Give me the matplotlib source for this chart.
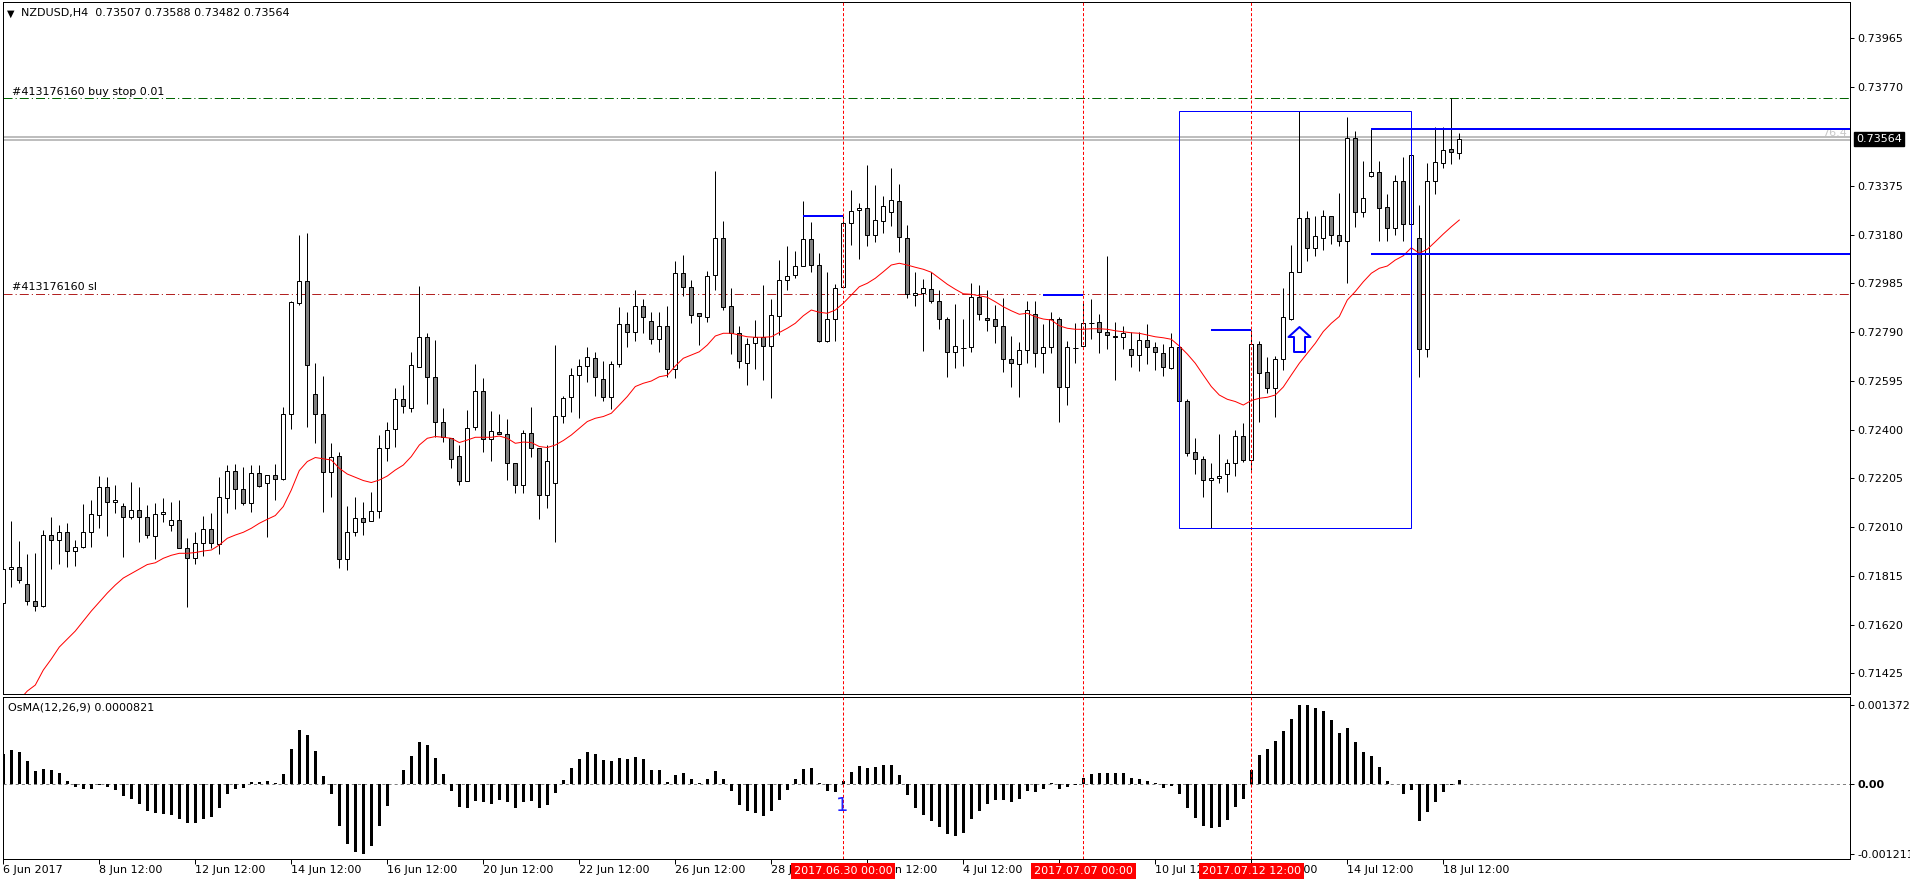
# -*- coding: utf-8 -*-
"""
NZDUSD H4 蜡烛图 + OsMA(12,26,9) 副图
"""

import numpy as np
import matplotlib
matplotlib.use('Agg')
import matplotlib.pyplot as plt
from matplotlib.path import Path
from matplotlib.patches import Rectangle
from matplotlib.transforms import blended_transform_factory, offset_copy

W, H, DPI = 1910, 884, 100
PX = 72.0 / DPI  # 1 像素对应的磅值

# ---- K线数据 (单位: 0.00001) ----
open_pts = [
    71705, 71841, 71851, 71781, 71713, 71695, 71977, 71957, 71989, 71914,
    71929, 71989, 72057, 72169, 72109, 72093, 72049, 72077, 72049, 71973,
    72061, 72017, 72037, 71925, 71885, 71945, 72001, 71941, 72125, 72233,
    72162, 72105, 72225, 72185, 72217, 72201, 72461, 72905, 72994, 72541,
    72461, 72229, 72294, 71881, 71989, 72047, 72034, 72074, 72325, 72401,
    72521, 72485, 72651, 72769, 72611, 72431, 72365, 72294, 72195, 72409,
    72554, 72361, 72389, 72381, 72265, 72177, 72385, 72325, 72137, 72186,
    72453, 72529, 72617, 72653, 72685, 72601, 72531, 72661, 72821, 72789,
    72893, 72833, 72761, 72813, 72641, 73025, 72969, 72865, 72849, 73017,
    73165, 72893, 72785, 72665, 72745, 72769, 72733, 72853, 72997, 73017,
    73053, 73161, 73057, 72753, 72841, 72969, 73225, 73277, 73285, 73177,
    73233, 73269, 73313, 73165, 72937, 72945, 72961, 72913, 72841, 72709,
    72727, 72729, 72929, 72845, 72841, 72813, 72681, 72661, 72717, 72861,
    72705, 72729, 72841, 72569, 72727, 72733, 72827, 72829, 72789, 72774,
    72769, 72721, 72697, 72757, 72729, 72705, 72645, 72729, 72513, 72309,
    72281, 72197, 72205, 72221, 72265, 72373, 72277, 72741, 72629, 72565,
    72681, 72841, 73029, 73245, 73125, 73165, 73253, 73177, 73153, 73565,
    73269, 73413, 73429, 73289, 73205, 73394, 73221, 73165, 72721, 73394,
    73465, 73521, 73507,
]
high_pts = [
    71871, 72034, 71954, 71902, 71906, 71997, 72050, 72018, 72026, 71957,
    72102, 72119, 72215, 72211, 72178, 72105, 72190, 72170, 72098, 72105,
    72126, 72110, 72118, 71965, 71989, 72054, 72066, 72211, 72259, 72263,
    72251, 72259, 72259, 72217, 72263, 72490, 72914, 73179, 73186, 72666,
    72614, 72345, 72311, 72094, 72131, 72111, 72151, 72378, 72431, 72567,
    72578, 72711, 72974, 72787, 72758, 72485, 72365, 72338, 72478, 72662,
    72605, 72474, 72462, 72443, 72265, 72398, 72490, 72325, 72338, 72738,
    72534, 72645, 72682, 72731, 72711, 72675, 72674, 72891, 72870, 72958,
    72922, 72870, 72870, 72893, 73074, 73098, 72998, 72865, 73034, 73434,
    73234, 72965, 72813, 72765, 72838, 72978, 72922, 73078, 73133, 73115,
    73314, 73230, 73105, 73029, 72982, 73254, 73357, 73305, 73458, 73378,
    73334, 73446, 73382, 73217, 73029, 73002, 73029, 72957, 72849, 72901,
    72841, 72985, 72977, 72957, 72897, 72925, 72773, 72749, 72913, 72913,
    72821, 72869, 72849, 72753, 72825, 72913, 72921, 72861, 73094, 72829,
    72813, 72789, 72789, 72821, 72749, 72741, 72785, 72733, 72521, 72365,
    72293, 72265, 72381, 72281, 72397, 72425, 72797, 72753, 72689, 72693,
    72965, 73138, 73675, 73275, 73255, 73278, 73253, 73345, 73649, 73595,
    73475, 73601, 73474, 73341, 73418, 73489, 73497, 73298, 73465, 73609,
    73609, 73725, 73588,
]
low_pts = [
    71671, 71769, 71787, 71699, 71675, 71689, 71841, 71861, 71851, 71855,
    71927, 71931, 72005, 71975, 72065, 71889, 72041, 71949, 71965, 71883,
    72029, 71993, 71925, 71691, 71861, 71893, 71925, 71901, 72065, 72082,
    72098, 72069, 72169, 71969, 72117, 72198, 72401, 72897, 72409, 72345,
    72069, 72131, 71845, 71838, 71975, 71978, 72034, 72047, 72275, 72331,
    72465, 72471, 72649, 72502, 72369, 72351, 72247, 72178, 72195, 72398,
    72311, 72275, 72381, 72198, 72145, 72145, 72289, 72043, 72085, 71951,
    72427, 72471, 72445, 72591, 72535, 72515, 72481, 72651, 72731, 72755,
    72785, 72741, 72711, 72609, 72605, 72935, 72825, 72739, 72829, 72958,
    72877, 72701, 72645, 72577, 72641, 72597, 72525, 72777, 72957, 73005,
    73053, 73029, 72749, 72749, 72753, 72969, 73139, 73081, 73133, 73149,
    73185, 73213, 73109, 72925, 72895, 72713, 72905, 72801, 72609, 72645,
    72653, 72709, 72837, 72793, 72745, 72629, 72571, 72531, 72665, 72649,
    72625, 72705, 72431, 72497, 72665, 72733, 72761, 72705, 72721, 72597,
    72721, 72649, 72633, 72661, 72637, 72613, 72641, 72513, 72293, 72221,
    72129, 72005, 72185, 72149, 72213, 72269, 72237, 72431, 72545, 72451,
    72637, 72838, 73029, 73075, 73095, 73119, 73143, 73135, 72985, 73211,
    73249, 73409, 73155, 73155, 73179, 73155, 73221, 72611, 72691, 73343,
    73445, 73461, 73482,
]
close_pts = [
    71841, 71851, 71798, 71713, 71693, 71977, 71957, 71989, 71914, 71929,
    71989, 72062, 72169, 72109, 72117, 72049, 72077, 72049, 71977, 72061,
    72069, 72037, 71925, 71885, 71945, 72001, 71945, 72130, 72233, 72162,
    72105, 72225, 72173, 72217, 72201, 72461, 72909, 72994, 72658, 72461,
    72229, 72289, 71881, 71989, 72047, 72031, 72074, 72325, 72397, 72521,
    72495, 72657, 72769, 72611, 72431, 72369, 72281, 72195, 72405, 72554,
    72361, 72393, 72381, 72265, 72177, 72385, 72325, 72137, 72273, 72453,
    72525, 72617, 72653, 72689, 72609, 72531, 72661, 72821, 72789, 72893,
    72849, 72761, 72813, 72641, 73025, 72969, 72857, 72853, 73013, 73165,
    72889, 72785, 72673, 72741, 72769, 72733, 72857, 72997, 73013, 73053,
    73161, 73057, 72753, 72841, 72965, 73225, 73273, 73285, 73177, 73237,
    73293, 73317, 73169, 72941, 72945, 72965, 72913, 72841, 72709, 72733,
    72727, 72929, 72861, 72837, 72813, 72681, 72665, 72717, 72877, 72705,
    72729, 72841, 72569, 72729, 72727, 72825, 72827, 72789, 72777, 72769,
    72785, 72697, 72757, 72729, 72709, 72649, 72729, 72513, 72305, 72281,
    72197, 72205, 72213, 72265, 72373, 72277, 72741, 72625, 72565, 72681,
    72849, 73029, 73245, 73125, 73173, 73253, 73177, 73153, 73565, 73269,
    73325, 73429, 73285, 73205, 73394, 73221, 73497, 72721, 73394, 73469,
    73517, 73509, 73564,
]
# 均线 (红线), 单位 0.00001
ma_pts = [
    71258, 71286, 71318, 71354, 71378, 71438, 71482, 71530, 71562, 71594,
    71634, 71674, 71710, 71746, 71778, 71806, 71824, 71842, 71860, 71867,
    71885, 71897, 71905, 71905, 71908, 71914, 71918, 71938, 71965, 71978,
    71989, 72005, 72025, 72041, 72056, 72092, 72158, 72236, 72272, 72288,
    72283, 72278, 72245, 72222, 72209, 72196, 72188, 72198, 72214, 72238,
    72258, 72292, 72338, 72365, 72372, 72369, 72365, 72348, 72358, 72369,
    72369, 72369, 72374, 72365, 72345, 72350, 72348, 72332, 72328, 72338,
    72356, 72378, 72405, 72432, 72445, 72452, 72465, 72498, 72532, 72572,
    72585, 72594, 72611, 72617, 72654, 72685, 72698, 72711, 72738, 72774,
    72785, 72785, 72778, 72771, 72769, 72769, 72771, 72788, 72805, 72825,
    72855, 72878, 72869, 72865, 72878, 72905, 72938, 72971, 72985, 73005,
    73031, 73058, 73065, 73058, 73049, 73041, 73029, 73005, 72981, 72961,
    72943, 72941, 72935, 72929, 72911, 72891, 72875, 72861, 72865, 72851,
    72842, 72838, 72815, 72805, 72801, 72801, 72803, 72803, 72801, 72795,
    72791, 72787, 72785, 72778, 72771, 72767, 72761, 72734, 72702, 72665,
    72618, 72572, 72538, 72521, 72512, 72498, 72516, 72525, 72529, 72538,
    72570, 72618, 72665, 72705, 72745, 72792, 72825, 72852, 72918, 72952,
    72991, 73025, 73045, 73054, 73078, 73095, 73127, 73105, 73121, 73151,
    73182, 73211, 73238,
]
# OsMA 柱, 单位 0.0001
osma_e4 = [
    5.28, 5.98, 5.63, 4.12, 2.32, 2.73, 2.50, 1.92, 0.58, -0.41,
    -0.75, -0.75, -0.12, -0.52, -0.99, -2.03, -2.50, -3.37, -4.59, -4.94,
    -5.17, -5.28, -6.10, -6.79, -6.68, -5.98, -5.63, -4.06, -1.74, -0.87,
    -0.58, 0.41, 0.35, 0.58, 0.23, 1.80, 6.16, 9.47, 8.59, 5.81,
    1.45, -1.63, -7.20, -10.34, -11.73, -12.11, -10.68, -7.20, -3.72, 0.05,
    2.50, 4.94, 7.26, 6.85, 4.59, 1.80, -1.10, -3.95, -4.07, -2.85,
    -3.08, -3.37, -2.67, -3.02, -4.07, -3.02, -2.85, -4.07, -3.54, -1.45,
    0.75, 2.85, 4.41, 5.52, 5.28, 4.18, 4.12, 4.59, 4.47, 4.82,
    4.34, 2.49, 2.49, 0.40, 1.62, 2.02, 0.98, 0.29, 0.92, 2.31,
    0.98, -1.10, -3.58, -4.57, -4.91, -5.49, -4.57, -2.66, -0.92, 0.98,
    2.66, 2.83, 0.23, -1.10, -1.27, 0.58, 2.20, 3.18, 2.89, 3.01,
    3.35, 3.35, 1.62, -1.79, -4.05, -5.26, -6.30, -7.34, -8.61, -8.90,
    -8.38, -5.95, -4.57, -3.35, -2.72, -2.77, -3.01, -2.49, -1.10, -1.27,
    -0.87, 0.23, -0.87, -0.40, -0.10, 1.10, 1.85, 2.02, 2.02, 2.02,
    2.02, 1.04, 0.87, 0.58, 0.23, -0.58, -0.23, -1.62, -4.05, -5.78,
    -7.17, -7.51, -7.34, -6.13, -3.87, -2.49, 2.49, 5.09, 6.13, 7.51,
    9.25, 11.33, 13.725, 13.72, 13.18, 12.72, 11.16, 8.96, 9.71, 7.28,
    5.61, 4.91, 3.01, 0.52, 0.12, -1.62, -0.92, -6.30, -4.74, -3.01,
    -1.27, -0.15, 0.821,
]

price_ticks = [0.73965, 0.73770, 0.73375, 0.73180, 0.72985, 0.72790, 0.72595,
               0.72400, 0.72205, 0.72010, 0.71815, 0.71620, 0.71425]
osma_ticks = [0.0013725, 0.0, -0.001211]
osma_tick_labels = ['0.0013725', '0.00', '-0.001211']

date_idx = [0, 12, 24, 36, 48, 60, 72, 84, 96, 108, 120, 132, 144, 156, 168, 180]
date_labels = ['6 Jun 2017', '8 Jun 12:00', '12 Jun 12:00', '14 Jun 12:00',
               '16 Jun 12:00', '20 Jun 12:00', '22 Jun 12:00', '26 Jun 12:00',
               '28 Jun 12:00', '30 Jun 12:00', '4 Jul 12:00', '6 Jul 12:00',
               '10 Jul 12:00', '12 Jul 12:00', '14 Jul 12:00', '18 Jul 12:00']
vline_idx = [105, 135, 156]
vline_labels = ['2017.06.30 00:00', '2017.07.07 00:00', '2017.07.12 12:00']

# 图上对象
buy_stop = 0.73725
stop_loss = 0.72941
grey_levels = [0.73571, 0.73558]
last_price = 0.73564
blue_levels = [(100, 105, 0.73255), (130, 135, 0.72939), (151, 156, 0.72798),
               (171, None, 0.73602), (171, None, 0.73102)]
box_idx = (147, 176)
box_price = (0.72006, 0.73675)
arrow_idx, arrow_price = 162, 0.72761
label_1_idx, label_1_val = 104.9, -0.000376


def fx(px):
    return px / W


def fy(py):
    return 1 - py / H


plt.rcParams['font.family'] = ['DejaVu Sans']
plt.rcParams['font.size'] = 8
plt.rcParams['lines.scale_dashes'] = False

o = np.array(open_pts) / 1e5
hi = np.array(high_pts) / 1e5
lo = np.array(low_pts) / 1e5
c = np.array(close_pts) / 1e5
ma = np.array(ma_pts) / 1e5
osma = np.array(osma_e4) / 1e4
x = np.arange(len(o))

fig = plt.figure(figsize=(W / DPI, H / DPI), dpi=DPI)
ax = fig.add_axes([fx(2.5), fy(694.3), (1850 - 2.5) / W, (694.3 - 1.5) / H])
ax2 = fig.add_axes([fx(2.5), fy(859.3), (1850 - 2.5) / W, (859.3 - 696.7) / H])

x_lim = (-0.1, -0.1 + 1847.5 / 8)
for a in (ax, ax2):
    a.set_xlim(*x_lim)
    for s in a.spines.values():
        s.set_linewidth(PX)
        s.set_color('black')
ax.set_ylim(0.71341, 0.74112)
ax2.set_ylim(-0.0013005, 0.001519)

# 蜡烛
ax.vlines(x, lo, hi, colors='black', linewidth=PX, zorder=3)
body_lo = np.minimum(o, c)
body_h = np.abs(c - o)
body_col = np.where(c >= o, 'white', '#808080')
ax.bar(x, body_h, bottom=body_lo, width=0.52, color=body_col,
       edgecolor='black', linewidth=PX, zorder=4)
doji = body_h == 0
ax.hlines(c[doji], x[doji] - 0.28, x[doji] + 0.28, colors='black', linewidth=PX, zorder=4)

ax.plot(x, ma, color='#ff0000', lw=PX, zorder=5)

# 水平线
ax.axhline(buy_stop, color='#006400', lw=PX, dashes=(6.5, 2.2, 0.8, 2.2), zorder=2)
ax.axhline(stop_loss, color='#b22222', lw=PX, dashes=(6.5, 2.2, 0.8, 2.2), zorder=2)
for lv in grey_levels:
    ax.axhline(lv, color='#a9a9a9', lw=1.5 * PX, zorder=2)
for i0, i1, lv in blue_levels:
    ax.hlines(lv, i0, x_lim[1] if i1 is None else i1, colors='#0000ff',
              linewidth=2 * PX, zorder=6)
ax.add_patch(Rectangle((box_idx[0], box_price[0]), box_idx[1] - box_idx[0],
                       box_price[1] - box_price[0], fill=False,
                       edgecolor='#0000ff', linewidth=PX, zorder=6))

arrow_path = Path([(0, 12.5), (11, 2.5), (5.5, 2.5), (5.5, -12.5), (-5.5, -12.5),
                   (-5.5, 2.5), (-11, 2.5), (0, 12.5)],
                  [Path.MOVETO] + [Path.LINETO] * 6 + [Path.CLOSEPOLY])
ax.plot([arrow_idx], [arrow_price], marker=arrow_path, ms=25 * PX, mfc='white',
        mec='#0000ff', mew=2 * PX, ls='none', zorder=7)

for i in vline_idx:
    ax.axvline(i, color='#ff0000', lw=PX, dashes=(2.2, 1.5), zorder=5)
    ax2.axvline(i, color='#ff0000', lw=PX, dashes=(2.2, 1.5), zorder=5)

# 右侧价格轴
ax.yaxis.tick_right()
ax.set_yticks(price_ticks)
ax.set_yticklabels([f'{v:.5f}' for v in price_ticks])
ax.tick_params(axis='y', direction='out', length=4 * PX, width=PX, pad=3 * PX,
               labelsize=8, colors='black')
ax.set_xticks([])

tr = blended_transform_factory(ax.transAxes, ax.transData)
ax.text(1.0, last_price, '0.73564', transform=offset_copy(tr, fig=fig, x=6, units='dots'),
        ha='left', va='center', color='white', fontsize=8, zorder=10, clip_on=False,
        bbox=dict(boxstyle='square,pad=0.18', fc='black', ec='black'))
ax.text(1.0, 0.73588, '76.4', transform=offset_copy(tr, fig=fig, x=-3, units='dots'),
        ha='right', va='center', color='#c8c8c8', fontsize=8, zorder=1)

# OsMA
ax2.bar(x, osma, width=0.33, color='black', zorder=3)
ax2.axhline(0, color='#808080', lw=PX, dashes=(2.2, 2.2), zorder=2)
ax2.yaxis.tick_right()
ax2.set_yticks(osma_ticks)
ax2.set_yticklabels(osma_tick_labels)
ax2.get_yticklabels()[1].set_fontweight('bold')
ax2.tick_params(axis='y', direction='out', length=4 * PX, width=PX, pad=3 * PX,
                labelsize=8, colors='black')
ax2.set_xticks(date_idx)
ax2.set_xticklabels(date_labels)
ax2.tick_params(axis='x', direction='out', length=5 * PX, width=PX, pad=1 * PX,
                labelsize=8, colors='black')
for t in ax2.get_xticklabels():
    t.set_horizontalalignment('left')

# 竖线日期标签 (红底白字, 盖住下方日期)
trx = blended_transform_factory(ax2.transData, ax2.transAxes)
for i, lab in zip(vline_idx, vline_labels):
    ax2.text(i, -0.0707, lab, transform=trx, ha='center', va='center', color='white',
             fontsize=8, zorder=10, clip_on=False,
             bbox=dict(boxstyle='square,pad=0.25', fc='#ff0000', ec='none'))

ax2.text(label_1_idx, label_1_val, '1', color='#2020ff', fontsize=14,
         ha='center', va='center', zorder=8)

# 文字标签
fig.text(fx(6.5), fy(13.3), '▼', fontsize=7, va='center', ha='left')
fig.text(fx(21), fy(13.3), 'NZDUSD,H4  0.73507 0.73588 0.73482 0.73564',
         fontsize=8, va='center', ha='left')
fig.text(fx(11.7), fy(91.7), '#413176160 buy stop 0.01', fontsize=8, va='center', ha='left')
fig.text(fx(11.7), fy(287.3), '#413176160 sl', fontsize=8, va='center', ha='left')
fig.text(fx(8), fy(707.3), 'OsMA(12,26,9) 0.0000821', fontsize=8, va='center', ha='left')

fig.savefig('out.png', dpi=DPI)
